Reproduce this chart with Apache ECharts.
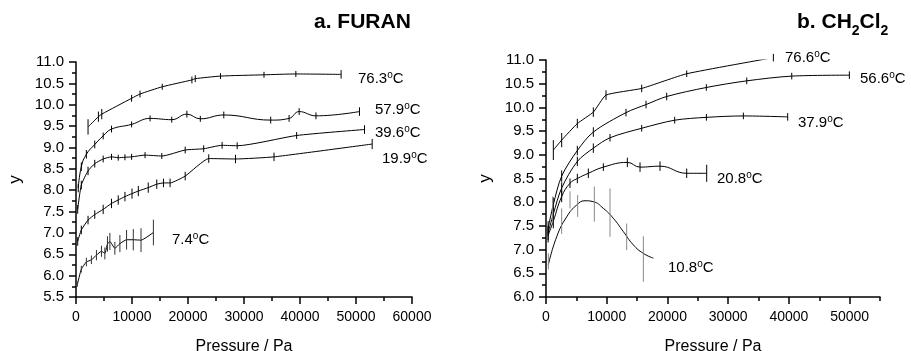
<!DOCTYPE html>
<html>
<head>
<meta charset="utf-8">
<script src="https://cdn.jsdelivr.net/npm/echarts@6/dist/echarts.min.js"></script>
<style>
html,body{margin:0;padding:0;background:#fff;}
#c{width:911px;height:351px;}
</style>
</head>
<body>
<div id="c"></div>
<script>
// ---- data: [pressure (Pa), y, error] ----
const furan763 = [[2150,9.48,0.18],[4000,9.72,0.12],[4600,9.78,0.12],[9930,10.15,0.08],[11430,10.25,0.08],[15400,10.42,0.07],[20700,10.58,0.08],[21300,10.61,0.08],[25800,10.67,0.07],[33570,10.70,0.07],[39260,10.72,0.07],[47340,10.71,0.1]];
const furan579 = [[400,8.05,0.1],[950,8.55,0.1],[1850,8.84,0.1],[3350,9.07,0.09],[4850,9.27,0.08],[6340,9.43,0.08],[9930,9.54,0.07],[13230,9.68,0.07],[17100,9.65,0.07],[19800,9.78,0.08],[22200,9.67,0.07],[26390,9.76,0.08],[34770,9.64,0.08],[38050,9.68,0.08],[39850,9.84,0.08],[42850,9.74,0.08],[50620,9.84,0.1]];
const furan396 = [[300,7.55,0.1],[950,8.12,0.1],[2150,8.45,0.1],[3350,8.62,0.09],[4850,8.73,0.08],[6340,8.78,0.07],[7540,8.76,0.07],[8740,8.77,0.07],[9930,8.78,0.07],[12330,8.82,0.07],[15320,8.80,0.07],[19500,8.94,0.08],[22800,8.97,0.08],[26090,9.05,0.08],[28780,9.04,0.08],[39400,9.28,0.08],[51520,9.42,0.1]];
const furan199 = [[300,6.80,0.1],[950,7.07,0.1],[2150,7.30,0.1],[3350,7.43,0.1],[4850,7.55,0.11],[6340,7.69,0.11],[7540,7.77,0.11],[8740,7.85,0.11],[10000,7.92,0.12],[11130,7.98,0.12],[12900,8.06,0.12],[14420,8.14,0.11],[15620,8.17,0.1],[16800,8.17,0.1],[19500,8.33,0.1],[23700,8.74,0.1],[28480,8.73,0.1],[35360,8.78,0.1],[52890,9.08,0.12]];
const furan74 = [[250,5.80,0.06],[950,6.15,0.08],[1850,6.32,0.1],[2750,6.37,0.1],[3650,6.48,0.12],[4550,6.57,0.13],[5150,6.52,0.14],[5620,6.74,0.18],[6050,6.80,0.2],[6940,6.64,0.15],[7840,6.75,0.2],[9030,6.84,0.23],[10230,6.84,0.25],[11610,6.83,0.28],[13820,7.01,0.3]];

const dcm766 = [[1207,9.10,0.21],[2581,9.31,0.15],[5160,9.66,0.1],[7796,9.90,0.1],[9882,10.26,0.1],[15757,10.40,0.08],[23170,10.71,0.07],[37440,11.05,0.08]];
const dcm566 = [[350,7.45,0.15],[1207,7.95,0.15],[2581,8.55,0.12],[5160,9.09,0.1],[7796,9.48,0.1],[13176,9.89,0.08],[16470,10.06,0.08],[19875,10.23,0.08],[26400,10.42,0.07],[33056,10.56,0.07],[40467,10.66,0.07],[49956,10.68,0.08]];
const dcm379 = [[350,7.35,0.15],[1207,7.75,0.15],[2581,8.30,0.12],[5160,8.86,0.1],[7796,9.14,0.1],[10541,9.36,0.08],[15757,9.56,0.07],[21190,9.73,0.07],[26410,9.79,0.07],[32500,9.82,0.07],[39800,9.80,0.08]];
const dcm208 = [[350,7.30,0.15],[1207,7.60,0.15],[2581,8.12,0.12],[3953,8.40,0.1],[5160,8.50,0.1],[6972,8.61,0.1],[9443,8.74,0.08],[13396,8.84,0.1],[15482,8.74,0.1],[18776,8.76,0.1],[23168,8.61,0.1],[26462,8.61,0.18]];
const dcm108Curve = [[384,6.68],[1757,7.27],[3404,7.69],[5050,7.94],[6423,8.03],[7796,8.01],[9443,7.87],[11090,7.66],[12737,7.38],[14380,7.10],[16030,6.92],[17677,6.82]];
const dcm108Points = [[384,6.75,0.17],[1100,7.84,0.28],[2580,7.60,0.27],[3953,8.05,0.18],[5215,7.92,0.23],[7960,7.96,0.37],[10541,7.78,0.51],[13286,7.27,0.28],[16030,6.80,0.48]];

const xTicksA = [0,10000,20000,30000,40000,50000,60000];
const xMinorA = [5000,15000,25000,35000,45000,55000];
const xTicksB = [0,10000,20000,30000,40000,50000];
const xMinorB = [5000,15000,25000,35000,45000,55000];

const FONT = "'Liberation Sans', Arial, Helvetica, sans-serif";

function errRender(color){
  return function(params, api){
    const x = api.value(0), y = api.value(1), e = api.value(2);
    const p1 = api.coord([x, y - e]), p2 = api.coord([x, y + e]);
    return {type:'line', shape:{x1:p1[0], y1:p1[1], x2:p2[0], y2:p2[1]}, style:{stroke:color, lineWidth:1}};
  };
}
function lineS(data, grid, smooth){
  return {type:'line', xAxisIndex: grid===0?0:2, yAxisIndex: grid, data: data.map(d=>[d[0],d[1]]),
    showSymbol:false, smooth: smooth, lineStyle:{color:'#000', width:1}, silent:true, animation:false, z:3};
}
function errS(data, grid, color){
  return {type:'custom', xAxisIndex: grid===0?0:2, yAxisIndex: grid, data: data, renderItem: errRender(color||'#000'),
    silent:true, animation:false, z:4, clip:false};
}
function xAxisMain(gi, max, ticks){
  return {type:'value', gridIndex:gi, position:'bottom', min:0, max:max,
    interval:10000,
    axisLine:{show:true, lineStyle:{color:'#000', width:1.5}},
    axisTick:{show:true, inside:false, length:7, customValues:ticks, lineStyle:{color:'#000', width:1.5}},
    axisLabel:{show:true, customValues:ticks, color:'#000', fontSize:14, fontFamily:FONT, margin:13,
      formatter:v=>String(Math.round(v))},
    splitLine:{show:false},
    name:'Pressure / Pa', nameLocation:'middle', nameGap:42,
    nameTextStyle:{color:'#000', fontSize:16, fontFamily:FONT}};
}
function xAxisMinor(gi, max, ticks){
  return {type:'value', gridIndex:gi, position:'bottom', min:0, max:max, interval:5000,
    axisLine:{show:false}, axisLabel:{show:false}, splitLine:{show:false},
    axisTick:{show:true, inside:false, length:4, customValues:ticks, lineStyle:{color:'#000', width:1.5}}};
}
function yAxis(gi, min){
  return {type:'value', gridIndex:gi, min:min, max:11.0, interval:0.5,
    axisLine:{show:true, lineStyle:{color:'#000', width:1.5}},
    axisTick:{show:true, inside:false, length:7, lineStyle:{color:'#000', width:1.5}},
    minorTick:{show:true, splitNumber:2, length:4, lineStyle:{color:'#000', width:1.5}},
    axisLabel:{color:'#000', fontSize:15, fontFamily:FONT, margin:12, formatter:v=>v.toFixed(1)},
    splitLine:{show:false}, minorSplitLine:{show:false},
    name:'y', nameLocation:'middle', nameGap:52,
    nameTextStyle:{color:'#000', fontSize:17, fontFamily:FONT}};
}

const labRich = {
  m:{fontSize:15, fontFamily:FONT, color:'#000', lineHeight:16, verticalAlign:'bottom'},
  s:{fontSize:10, fontFamily:FONT, color:'#000', lineHeight:8, verticalAlign:'top'}
};
function tempLabel(t, x, y){
  return {type:'text', x:x, y:y, silent:true,
    style:{text:'{m|'+t+'}{s|o}{m|C}', rich:labRich, align:'left', verticalAlign:'middle'}};
}
const titleRich = {
  b:{fontSize:21, fontWeight:'bold', fontFamily:FONT, color:'#000', lineHeight:22, verticalAlign:'top'},
  sub:{fontSize:14, fontWeight:'bold', fontFamily:FONT, color:'#000', lineHeight:27, verticalAlign:'bottom'}
};

const chart = echarts.init(document.getElementById('c'), null, {renderer:'canvas'});
chart.setOption({
  backgroundColor:'#fff',
  animation:false,
  grid:[
    {left:76, top:62, width:336, height:235, containLabel:false, outerBoundsMode:'none'},
    {left:546, top:60, width:334, height:237, containLabel:false, outerBoundsMode:'none'}
  ],
  xAxis:[
    xAxisMain(0, 60000, xTicksA),
    xAxisMinor(0, 60000, xMinorA),
    xAxisMain(1, 55000, xTicksB),
    xAxisMinor(1, 55000, xMinorB)
  ],
  yAxis:[ yAxis(0, 5.5), yAxis(1, 6.0) ],
  series:[
    lineS(furan763,0,0.2), errS(furan763,0),
    lineS(furan579,0,0.45), errS(furan579,0),
    lineS(furan396,0,0.2), errS(furan396,0),
    lineS(furan199,0,0.15), errS(furan199,0),
    lineS(furan74,0,0.15), errS(furan74,0,'#333'),
    lineS(dcm766,1,0.15), errS(dcm766,1),
    lineS(dcm566,1,0.3), errS(dcm566,1),
    lineS(dcm379,1,0.3), errS(dcm379,1),
    lineS(dcm208,1,0.45), errS(dcm208,1),
    {type:'line', xAxisIndex:2, yAxisIndex:1, data:dcm108Curve, showSymbol:false, smooth:0.5,
      lineStyle:{color:'#000', width:1}, silent:true, animation:false, z:3},
    errS(dcm108Points,1,'#888')
  ],
  graphic:[
    {type:'text', x:314, y:11.5, silent:true, style:{text:'{b|a. FURAN}', rich:titleRich, align:'left', verticalAlign:'top'}},
    {type:'text', x:797, y:11.5, silent:true, style:{text:'{b|b. CH}{sub|2}{b|Cl}{sub|2}', rich:titleRich, align:'left', verticalAlign:'top'}},
    tempLabel('76.3', 358, 78),
    tempLabel('57.9', 375, 109),
    tempLabel('39.6', 375, 132),
    tempLabel('19.9', 382, 158),
    tempLabel('7.4', 172, 239),
    tempLabel('76.6', 785, 57),
    tempLabel('56.6', 860, 78),
    tempLabel('37.9', 798, 122),
    tempLabel('20.8', 717, 178),
    tempLabel('10.8', 668, 267)
  ]
});
</script>
</body>
</html>
